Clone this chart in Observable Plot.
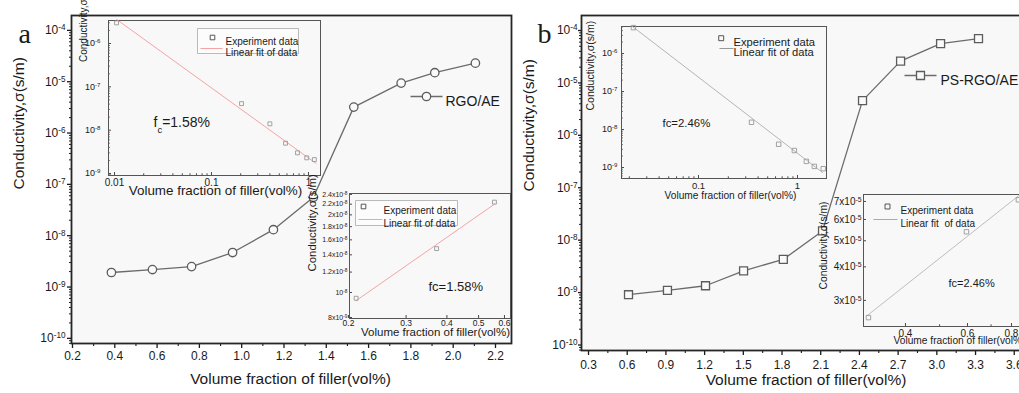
<!DOCTYPE html>
<html>
<head>
<meta charset="utf-8">
<script src="https://cdn.jsdelivr.net/npm/d3@7"></script>
<script src="https://cdn.jsdelivr.net/npm/@observablehq/plot@0.6"></script>
<style>
  html, body { margin: 0; padding: 0; background: #fff; overflow: hidden; }
  #fig { position: relative; width: 1019px; height: 393px; overflow: hidden; background: #fff; }
  #fig svg { position: absolute; left: 0; top: 0; max-width: none; }
</style>
</head>
<body>
<div id="fig"></div>
<script>
// ================= DATA =================
// Panel a – main curve (RGO/AE)
const aSeriesName = "RGO/AE";
const aFiller = [0.384, 0.578, 0.763, 0.957, 1.150, 1.339, 1.530, 1.754, 1.913, 2.105];
const aSigma  = [1.92e-9, 2.19e-9, 2.5e-9, 4.7e-9, 1.31e-8, 5.6e-8, 3.2e-6, 9.4e-6, 1.5e-5, 2.3e-5];
const aXTicks = [0.2, 0.4, 0.6, 0.8, 1.0, 1.2, 1.4, 1.6, 1.8, 2.0, 2.2];
const aXTickLabels = ["0.2", "0.4", "0.6", "0.8", "1.0", "1.2", "1.4", "1.6", "1.8", "2.0", "2.2"];

// Panel b – main curve (PS-RGO/AE)
const bSeriesName = "PS-RGO/AE";
const bFiller = [0.610, 0.912, 1.207, 1.502, 1.810, 2.114, 2.424, 2.719, 3.029, 3.323];
const bSigma  = [9.1e-10, 1.1e-9, 1.35e-9, 2.6e-9, 4.3e-9, 1.5e-8, 4.6e-6, 2.6e-5, 5.6e-5, 7.0e-5];
const bXTicks = [0.3, 0.6, 0.9, 1.2, 1.5, 1.8, 2.1, 2.4, 2.7, 3.0, 3.3, 3.6];
const bXTickLabels = ["0.3", "0.6", "0.9", "1.2", "1.5", "1.8", "2.1", "2.4", "2.7", "3.0", "3.3", "3.6"];

// shared main y ticks
const sigmaTicks = [1e-4, 1e-5, 1e-6, 1e-7, 1e-8, 1e-9, 1e-10];
const sigmaTickLabels = ["10^{-4}", "10^{-5}", "10^{-6}", "10^{-7}", "10^{-8}", "10^{-9}", "10^{-10}"];

// Inset a1 (log–log)
const a1X = [0.0105, 0.204, 0.40, 0.58, 0.77, 0.96, 1.15];
const a1Y = [3.0e-6, 4.1e-8, 1.4e-8, 5.0e-9, 3.0e-9, 2.3e-9, 2.1e-9];
const a1FitX = [0.0105, 1.2];
const a1FitY = [3.6e-6, 1.7e-9];
const a1XTicks = [0.01, 0.1, 1];
const a1XTickLabels = ["0.01", "0.1", "1"];
const a1YTicks = [1e-6, 1e-7, 1e-8, 1e-9];
const a1YTickLabels = ["10^{-6}", "10^{-7}", "10^{-8}", "10^{-9}"];

// Inset a2
const a2X = [0.211, 0.372, 0.559];
const a2Y = [9.5e-9, 1.48e-8, 2.24e-8];
const a2FitX = [0.211, 0.559];
const a2FitY = [9.3e-9, 2.2e-8];
const a2XTicks = [0.2, 0.3, 0.4, 0.5, 0.6];
const a2XTickLabels = ["0.2", "0.3", "0.4", "0.5", "0.6"];
const a2YTicks = [8e-9, 1e-8, 1.2e-8, 1.4e-8, 1.6e-8, 1.8e-8, 2e-8, 2.2e-8, 2.4e-8];
const a2YTickLabels = ["8x10^{-9}", "10^{-8}", "1.2x10^{-8}", "1.4x10^{-8}", "1.6x10^{-8}", "1.8x10^{-8}", "2x10^{-8}", "2.2x10^{-8}", "2.4x10^{-8}"];

// Inset b1 (log–log)
const b1X = [0.022, 0.343, 0.645, 0.93, 1.23, 1.48, 1.82];
const b1Y = [4.8e-6, 1.55e-8, 4.1e-9, 2.8e-9, 1.45e-9, 1.07e-9, 9.3e-10];
const b1FitX = [0.0216, 1.79];
const b1FitY = [5.1e-6, 7.4e-10];
const b1XTicks = [0.1, 1];
const b1XTickLabels = ["0.1", "1"];
const b1YTicks = [1e-6, 1e-7, 1e-8, 1e-9];
const b1YTickLabels = ["10^{-6}", "10^{-7}", "10^{-8}", "10^{-9}"];

// Inset b2
const b2X = [0.314, 0.596, 0.837];
const b2Y = [2.59e-5, 5.4e-5, 7.1e-5];
const b2FitX = [0.312, 0.838];
const b2FitY = [2.64e-5, 7.35e-5];
const b2XTicks = [0.4, 0.6, 0.8];
const b2XTickLabels = ["0.4", "0.6", "0.8"];
const b2XMinor = [0.5, 0.7, 0.9];
const b2YTicks = [3e-5, 4e-5, 5e-5, 6e-5, 7e-5];
const b2YTickLabels = ["3x10^{-5}", "4x10^{-5}", "5x10^{-5}", "6x10^{-5}", "7x10^{-5}"];

// texts
const xTitle = "Volume fraction of filler(vol%)";
const yTitle = "Conductivity,σ(s/m)";
const legendExp = "Experiment data";
const legendFit = "Linear fit of data";
const legendFitB2 = "Linear fit  of data";
const fcA1 = "f_{c}=1.58%";
const fcA2 = "fc=1.58%";
const fcB = "fc=2.46%";

// ================= HELPERS =================
const fig = document.getElementById("fig");
const FONT = "'Liberation Sans', Arial, Helvetica, sans-serif";
const SERIF = "'Liberation Serif', 'Times New Roman', serif";
const H = 393;
const BG = "#f8f8f8";

function box(L, T, R, B, W = 1019) {
  return {width: W, height: H, marginLeft: L, marginTop: T, marginRight: W - R, marginBottom: H - B};
}
// tolerant lookup of a tick label (values may come back with rounding noise)
const fmt = (vals, labels) => d => {
  const i = vals.findIndex(v => Math.abs(v - d) <= 1e-6 * Math.abs(v));
  return i < 0 ? "" : labels[i];
};
const blank = () => "";
const rows = (xs, ys) => xs.map((x, i) => ({x, y: ys[i]}));
function logMinor([lo, hi]) {
  const out = [];
  for (let e = Math.floor(Math.log10(lo)); e <= Math.ceil(Math.log10(hi)); e++)
    for (let k = 2; k <= 9; k++) { const v = k * 10 ** e; if (v >= lo && v <= hi) out.push(v); }
  return out;
}
const mids = t => t.slice(1).map((v, i) => (v + t[i]) / 2);
const seg = w => ({draw(c) { c.moveTo(-w / 2, 0); c.lineTo(w / 2, 0); }});
const rectSym = (w, h) => ({draw(c) { c.rect(-w / 2, -h / 2, w, h); }});
const label = (text, o) => Plot.text([text], {text: d => d, ...o});

function supify(svg) {
  svg.querySelectorAll("text, tspan").forEach(el => {
    if (el.children.length) return;
    const s = el.textContent;
    if (!/[\^_]\{/.test(s)) return;
    el.textContent = "";
    const re = /([\^_])\{([^}]*)\}/g;
    let last = 0, m;
    while ((m = re.exec(s))) {
      if (m.index > last) el.appendChild(document.createTextNode(s.slice(last, m.index)));
      const t = document.createElementNS("http://www.w3.org/2000/svg", "tspan");
      t.setAttribute("baseline-shift", m[1] === "^" ? "super" : "sub");
      t.setAttribute("font-size", "68%");
      t.textContent = m[2];
      el.appendChild(t);
      last = re.lastIndex;
    }
    if (last < s.length) el.appendChild(document.createTextNode(s.slice(last)));
  });
}

function render(opts) {
  const svg = Plot.plot({...opts, style: `background: transparent; font-family: ${FONT}; color: #1a1a1a;`});
  supify(svg);
  fig.appendChild(svg);
}

// tick labels drawn as text marks positioned by the scales
function xLabels(ticks, labels, o) {
  return Plot.text(ticks, {x: d => d, frameAnchor: "bottom", lineAnchor: "top", dy: o.pad, text: fmt(ticks, labels), fontSize: o.font, fill: "#1a1a1a"});
}
function yLabels(ticks, labels, o) {
  return Plot.text(ticks, {y: d => d, frameAnchor: "left", textAnchor: "end", dx: -o.pad, text: fmt(ticks, labels), fontSize: o.font, fill: "#1a1a1a"});
}

function insetAxes(o) {
  const st = "#4a4a4a";
  const marks = [
    xLabels(o.xTicks, o.xLabels, {pad: o.xPad, font: o.xFont}),
    yLabels(o.yTicks, o.yLabels, {pad: o.yPad, font: o.yFont}),
    Plot.axisX(o.xTicks, {tickSize: 3, dy: -3, tickFormat: blank, label: null, stroke: st}),
    Plot.axisY(o.yTicks, {tickSize: 3, dx: 3, tickFormat: blank, label: null, stroke: st})
  ];
  if (o.xMinor) marks.push(Plot.axisX(o.xMinor, {tickSize: 1.7, dy: -1.7, tickFormat: blank, label: null, stroke: st}));
  if (o.yMinor) marks.push(Plot.axisY(o.yMinor, {tickSize: 1.7, dx: 1.7, tickFormat: blank, label: null, stroke: st}));
  return marks;
}

// ================= PANEL a – MAIN =================
{
  const yDom = [10 ** -10.1, 10 ** -3.71];
  const data = rows(aFiller, aSigma);
  render({
    ...box(71, 15, 511, 343),
    x: {domain: [0.1953, 2.2757], axis: null},
    y: {type: "log", domain: yDom, axis: null},
    marks: [
      Plot.frame({fill: BG, stroke: "none"}),
      Plot.axisX(aXTicks, {tickSize: 5, tickFormat: blank, strokeWidth: 1.3, label: null}),
      xLabels(aXTicks, aXTickLabels, {pad: 8, font: 12}),
      Plot.axisX(mids(aXTicks), {tickSize: 3, tickFormat: blank, strokeWidth: 1.1, label: null}),
      Plot.axisY(sigmaTicks, {tickSize: 4, tickFormat: blank, strokeWidth: 1.3, label: null}),
      yLabels(sigmaTicks, sigmaTickLabels, {pad: 6, font: 12}),
      Plot.axisY(logMinor(yDom), {tickSize: 2, tickFormat: blank, label: null}),
      Plot.frame({stroke: "#262626", strokeWidth: 1.8}),
      Plot.line(data, {x: "x", y: "y", stroke: "#6b6b6b", strokeWidth: 1.3}),
      Plot.dot(data, {x: "x", y: "y", r: 4.2, stroke: "#5c5c5c", fill: "#fafafa", strokeWidth: 1.3}),
      Plot.dot([0], {frameAnchor: "top-left", dx: 355, dy: 81, symbol: seg(32), stroke: "#6b6b6b", fill: "none", strokeWidth: 1.3}),
      Plot.dot([0], {frameAnchor: "top-left", dx: 355, dy: 81, r: 4.2, stroke: "#5c5c5c", fill: "#fafafa", strokeWidth: 1.3}),
      label(aSeriesName, {frameAnchor: "top-left", dx: 374, dy: 81, textAnchor: "start", fontSize: 14}),
      label("a", {frameAnchor: "top-left", dx: -53, dy: 8, fontSize: 28, fontFamily: SERIF}),
      label(yTitle, {frameAnchor: "left", rotate: -90, dx: -52, dy: 10, fontSize: 15.5}),
      label(xTitle, {frameAnchor: "bottom", dx: -1, dy: 40, fontSize: 15.5})
    ]
  });
}

// ================= PANEL a – INSET 1 =================
{
  const xDom = [10 ** -2.062, 10 ** 0.124], yDom = [10 ** -9.046, 10 ** -5.469];
  render({
    ...box(108, 20, 320, 175),
    x: {type: "log", domain: xDom, axis: null},
    y: {type: "log", domain: yDom, axis: null},
    marks: [
      Plot.frame({fill: BG, stroke: "none"}),
      ...insetAxes({xTicks: a1XTicks, xLabels: a1XTickLabels, yTicks: a1YTicks, yLabels: a1YTickLabels,
        xMinor: logMinor(xDom), yMinor: logMinor(yDom), xFont: 10, yFont: 9, xPad: 3, yPad: 8}),
      Plot.frame({stroke: "#555", strokeWidth: 1}),
      Plot.line(rows(a1FitX, a1FitY), {x: "x", y: "y", stroke: "#f5a3a3", strokeWidth: 1}),
      Plot.dot(rows(a1X, a1Y), {x: "x", y: "y", symbol: "square", r: 2.2, stroke: "#999", fill: "none", strokeWidth: 0.9}),
      Plot.dot([0], {frameAnchor: "top-left", dx: 139.5, dy: 20.5, symbol: rectSym(101, 25), stroke: "#aaa", fill: "#fcfcfc", strokeWidth: 0.8}),
      Plot.dot([0], {frameAnchor: "top-left", dx: 104, dy: 17, symbol: "square", r: 2.6, stroke: "#444", fill: "none", strokeWidth: 0.9}),
      label(legendExp, {frameAnchor: "top-left", dx: 117, dy: 17, textAnchor: "start", fontSize: 10}),
      Plot.dot([0], {frameAnchor: "top-left", dx: 103, dy: 28, symbol: seg(22), stroke: "#f5a3a3", fill: "none", strokeWidth: 1}),
      label(legendFit, {frameAnchor: "top-left", dx: 117, dy: 28, textAnchor: "start", fontSize: 10}),
      label(fcA1, {frameAnchor: "top-left", dx: 45, dy: 97, textAnchor: "start", fontSize: 14}),
      label(yTitle, {frameAnchor: "left", rotate: -90, dx: -25, dy: -36, fontSize: 10}),
      label(xTitle, {frameAnchor: "bottom", dx: 1, dy: 19, fontSize: 13.4})
    ]
  });
}

// ================= PANEL a – INSET 2 =================
{
  render({
    ...box(349, 193, 510, 318),
    x: {type: "log", domain: [0.2014, 0.626], axis: null},
    y: {type: "log", domain: [7.93e-9, 2.42e-8], axis: null},
    marks: [
      Plot.frame({fill: BG, stroke: "none"}),
      ...insetAxes({xTicks: a2XTicks, xLabels: a2XTickLabels, yTicks: a2YTicks, yLabels: a2YTickLabels,
        xFont: 8.5, yFont: 7, xPad: 1.5, yPad: 2}),
      Plot.frame({stroke: "#555", strokeWidth: 1}),
      Plot.line(rows(a2FitX, a2FitY), {x: "x", y: "y", stroke: "#f5a3a3", strokeWidth: 1}),
      Plot.dot(rows(a2X, a2Y), {x: "x", y: "y", symbol: "square", r: 2.2, stroke: "#999", fill: "none", strokeWidth: 0.9}),
      Plot.dot([0], {frameAnchor: "top-left", dx: 57, dy: 19.5, symbol: rectSym(102, 25), stroke: "#aaa", fill: "#fcfcfc", strokeWidth: 0.8}),
      Plot.dot([0], {frameAnchor: "top-left", dx: 14, dy: 13, symbol: "square", r: 2.6, stroke: "#444", fill: "none", strokeWidth: 0.9}),
      label(legendExp, {frameAnchor: "top-left", dx: 34, dy: 13, textAnchor: "start", fontSize: 10}),
      Plot.dot([0], {frameAnchor: "top-left", dx: 21, dy: 26, symbol: seg(24), stroke: "#f5a3a3", fill: "none", strokeWidth: 1}),
      label(legendFit, {frameAnchor: "top-left", dx: 34, dy: 26, textAnchor: "start", fontSize: 10}),
      label(fcA2, {frameAnchor: "top-left", dx: 79, dy: 88, textAnchor: "start", fontSize: 13}),
      label(yTitle, {frameAnchor: "left", rotate: -90, dx: -37, dy: 15.5, fontSize: 11.4}),
      label(xTitle, {frameAnchor: "bottom", dx: 5.5, dy: 17, fontSize: 11.5})
    ]
  });
}

// ================= PANEL b – MAIN =================
{
  const yDom = [10 ** -10.105, 10 ** -3.714];
  const data = rows(bFiller, bSigma);
  render({
    ...box(581, 15, 1030, 350, 1030),
    x: {domain: [0.2457, 3.726], axis: null},
    y: {type: "log", domain: yDom, axis: null},
    marks: [
      Plot.frame({fill: BG, stroke: "none"}),
      Plot.axisX(bXTicks, {tickSize: 5, tickFormat: blank, strokeWidth: 1.3, label: null}),
      xLabels(bXTicks, bXTickLabels, {pad: 10, font: 12}),
      Plot.axisX(mids(bXTicks), {tickSize: 3, tickFormat: blank, strokeWidth: 1.1, label: null}),
      Plot.axisY(sigmaTicks, {tickSize: 3, tickFormat: blank, strokeWidth: 1.3, label: null}),
      yLabels(sigmaTicks, sigmaTickLabels, {pad: 4, font: 12}),
      Plot.axisY(logMinor(yDom), {tickSize: 2, tickFormat: blank, label: null}),
      Plot.frame({stroke: "#262626", strokeWidth: 1.8}),
      Plot.line(data, {x: "x", y: "y", stroke: "#6b6b6b", strokeWidth: 1.3}),
      Plot.dot(data, {x: "x", y: "y", symbol: "square", r: 4.5, stroke: "#5c5c5c", fill: "#fafafa", strokeWidth: 1.3}),
      Plot.dot([0], {frameAnchor: "top-left", dx: 339, dy: 60, symbol: seg(32), stroke: "#6b6b6b", fill: "none", strokeWidth: 1.3}),
      Plot.dot([0], {frameAnchor: "top-left", dx: 339, dy: 60, symbol: "square", r: 4.5, stroke: "#5c5c5c", fill: "#fafafa", strokeWidth: 1.3}),
      label(bSeriesName, {frameAnchor: "top-left", dx: 359, dy: 60, textAnchor: "start", fontSize: 14}),
      label("b", {frameAnchor: "top-left", dx: -44, dy: 8, fontSize: 28, fontFamily: SERIF}),
      label(yTitle, {frameAnchor: "left", rotate: -90, dx: -52, dy: 8.5, fontSize: 15.5}),
      label(xTitle, {frameAnchor: "bottom", dx: 0, dy: 34, fontSize: 15.5})
    ]
  });
}

// ================= PANEL b – INSET 1 =================
{
  const xDom = [10 ** -1.778, 10 ** 0.293], yDom = [10 ** -9.289, 10 ** -5.289];
  render({
    ...box(621, 26, 826, 178),
    x: {type: "log", domain: xDom, axis: null},
    y: {type: "log", domain: yDom, axis: null},
    marks: [
      Plot.frame({fill: BG, stroke: "none"}),
      ...insetAxes({xTicks: b1XTicks, xLabels: b1XTickLabels, yTicks: b1YTicks, yLabels: b1YTickLabels,
        xMinor: logMinor(xDom), yMinor: logMinor(yDom), xFont: 9.5, yFont: 9, xPad: 3.5, yPad: 4}),
      Plot.frame({stroke: "#555", strokeWidth: 1}),
      Plot.line(rows(b1FitX, b1FitY), {x: "x", y: "y", stroke: "#b5b5b5", strokeWidth: 1}),
      Plot.dot(rows(b1X, b1Y), {x: "x", y: "y", symbol: "square", r: 2.5, stroke: "#999", fill: "none", strokeWidth: 0.9}),
      Plot.dot([0], {frameAnchor: "top-left", dx: 99.7, dy: 11.7, symbol: "square", r: 2.8, stroke: "#444", fill: "none", strokeWidth: 0.9}),
      label(legendExp, {frameAnchor: "top-left", dx: 112, dy: 12, textAnchor: "start", fontSize: 11.2}),
      Plot.dot([0], {frameAnchor: "top-left", dx: 105, dy: 22, symbol: seg(14), stroke: "#999", fill: "none", strokeWidth: 1}),
      label(legendFit, {frameAnchor: "top-left", dx: 112, dy: 22, textAnchor: "start", fontSize: 11.2}),
      label(fcB, {frameAnchor: "top-left", dx: 41, dy: 92, textAnchor: "start", fontSize: 11.4}),
      label(yTitle, {frameAnchor: "left", rotate: -90, dx: -31, dy: 8, fontSize: 10.5}),
      label(xTitle, {frameAnchor: "bottom", dx: 6.5, dy: 20, fontSize: 10.2})
    ]
  });
}

// ================= PANEL b – INSET 2 =================
{
  render({
    ...box(863, 194, 1035, 326, 1035),
    x: {type: "log", domain: [0.304, 0.936], axis: null},
    y: {type: "log", domain: [2.40e-5, 7.43e-5], axis: null},
    marks: [
      Plot.frame({fill: BG, stroke: "none"}),
      ...insetAxes({xTicks: b2XTicks, xLabels: b2XTickLabels, yTicks: b2YTicks, yLabels: b2YTickLabels,
        xMinor: b2XMinor, xFont: 10, yFont: 10, xPad: 3, yPad: 2}),
      Plot.frame({stroke: "#555", strokeWidth: 1}),
      Plot.line(rows(b2FitX, b2FitY), {x: "x", y: "y", stroke: "#bdbdbd", strokeWidth: 1}),
      Plot.dot(rows(b2X, b2Y), {x: "x", y: "y", symbol: "square", r: 2.5, stroke: "#999", fill: "none", strokeWidth: 0.9}),
      Plot.dot([0], {frameAnchor: "top-left", dx: 24, dy: 12, symbol: "square", r: 2.8, stroke: "#444", fill: "none", strokeWidth: 0.9}),
      label(legendExp, {frameAnchor: "top-left", dx: 37, dy: 12, textAnchor: "start", fontSize: 10}),
      Plot.dot([0], {frameAnchor: "top-left", dx: 22, dy: 25, symbol: seg(24), stroke: "#aaa", fill: "none", strokeWidth: 1}),
      label(legendFitB2, {frameAnchor: "top-left", dx: 37, dy: 25, textAnchor: "start", fontSize: 10}),
      label(fcB, {frameAnchor: "top-left", dx: 85, dy: 85, textAnchor: "start", fontSize: 11}),
      label(yTitle, {frameAnchor: "left", rotate: -90, dx: -40, dy: 29, fontSize: 10.3}),
      label(xTitle, {frameAnchor: "bottom-left", dx: 30, dy: 17.5, textAnchor: "start", fontSize: 10.2})
    ]
  });
}
</script>
</body>
</html>
